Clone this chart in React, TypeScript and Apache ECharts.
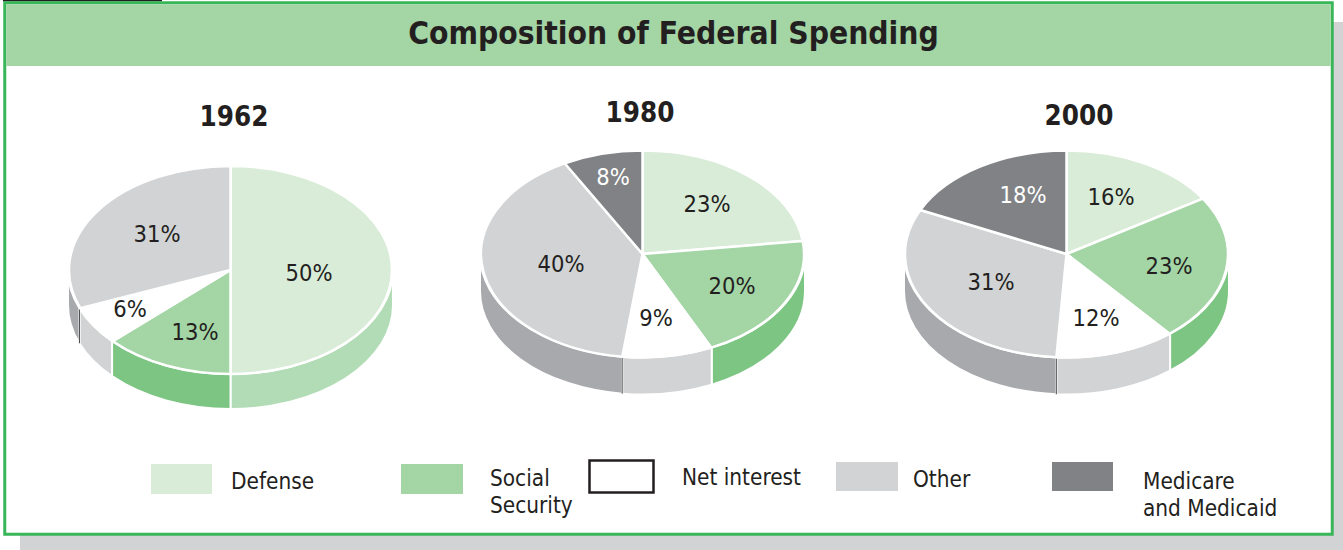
import React, { useEffect, useRef } from "react";
import * as echarts from "echarts";

const title = "Composition of Federal Spending";
const categories = ["Defense", "Social Security", "Net interest", "Other", "Medicare and Medicaid"];
const values1962 = [50, 13, 6, 31, 0];
const values1980 = [23, 20, 9, 40, 8];
const values2000 = [16, 23, 12, 31, 18];

const topColors = ["#d9ecd8", "#a3d5a5", "#ffffff", "#d1d3d4", "#808285"];
const wallColors = ["#b2dcb5", "#7cc583", "#d1d3d4", "#a7a9ac", "#808285"];
const labelColors = ["#231f20", "#231f20", "#231f20", "#231f20", "#ffffff"];
const FONT = "'DejaVu Sans Condensed', 'DejaVu Sans', sans-serif";

const pies = [
  { year: "1962", values: values1962, cx: 230.5, cy: 270, rx: 161.5, ry: 104, depth: 35, titleX: 234, titleY: 116,
    labels: [[309, 273], [195, 332], [130, 309], [157, 234], [0, 0]] },
  { year: "1980", values: values1980, cx: 642.5, cy: 254, rx: 161.5, ry: 103.5, depth: 37, titleX: 640, titleY: 112,
    labels: [[707, 204], [732, 286], [656, 318], [561, 264], [613, 177]] },
  { year: "2000", values: values2000, cx: 1066.5, cy: 254, rx: 161.5, ry: 103.5, depth: 37, titleX: 1079, titleY: 115,
    labels: [[1111, 197], [1169, 266], [1096, 318], [991, 282], [1023, 195]] },
];

const legendSwatches = [
  { x: 151, y: 464, w: 61, h: 30 },
  { x: 401, y: 464, w: 62, h: 30 },
  { x: 589.5, y: 460.5, w: 64, h: 32 },
  { x: 836, y: 462, w: 62, h: 29 },
  { x: 1052, y: 462, w: 61, h: 29 },
];
const legendTexts = [
  { x: 231, y: 481, lines: ["Defense"] },
  { x: 490, y: 478, lines: ["Social", "Security"] },
  { x: 682, y: 477, lines: ["Net interest"] },
  { x: 913, y: 479, lines: ["Other"] },
  { x: 1143, y: 481, lines: ["Medicare", "and Medicaid"] },
];

function makeSeries(p: (typeof pies)[number]) {
  const total = p.values.reduce((a, b) => a + b, 0);
  const pt = (a: number, dy = 0, grow = 0) =>
    [p.cx + (p.rx + grow) * Math.sin(a), p.cy - p.ry * Math.cos(a) + dy] as [number, number];
  const startOf = (i: number) =>
    (p.values.slice(0, i).reduce((a, b) => a + b, 0) / total) * Math.PI * 2;
  const arc = (a1: number, a2: number, dy: number, sweep: 0 | 1, grow = 0) => {
    const [x, y] = pt(a2, dy, grow);
    const large = Math.abs(a2 - a1) > Math.PI ? 1 : 0;
    return `A${p.rx + grow} ${p.ry} 0 ${large} ${sweep} ${x} ${y}`;
  };
  const data = p.values.map((v, i) => ({ name: categories[i], value: v }));
  const grow = 1;

  const renderWall = (params: any, api: any) => {
    const i = params.dataIndex;
    const v = api.value(0);
    const a1 = startOf(i);
    const a2 = a1 + (v / total) * Math.PI * 2;
    const lo = Math.max(a1, Math.PI / 2);
    const hi = Math.min(a2, (Math.PI * 3) / 2);
    if (v <= 0 || hi <= lo) return { type: "group", children: [] };
    const [sx, sy] = pt(lo, 0, grow);
    const [ex, ey] = pt(hi, p.depth, grow);
    const d = `M${sx} ${sy}${arc(lo, hi, 0, 1, grow)}L${ex} ${ey}${arc(hi, lo, p.depth, 0, grow)}Z`;
    const children: any[] = [
      { type: "path", shape: { pathData: d }, style: { fill: wallColors[i], stroke: "#ffffff", lineWidth: 2 } },
    ];
    if (i === 3) {
      const [lx, ly] = pt(a1, 0, grow);
      children.push({
        type: "line",
        shape: { x1: lx, y1: ly, x2: lx, y2: ly + p.depth },
        style: { stroke: "#414042", lineWidth: 1 },
      });
    }
    return { type: "group", children };
  };

  const renderTop = (params: any, api: any) => {
    const i = params.dataIndex;
    const v = api.value(0);
    if (v <= 0) return { type: "group", children: [] };
    const a1 = startOf(i);
    const a2 = a1 + (v / total) * Math.PI * 2;
    const [sx, sy] = pt(a1);
    const d = `M${p.cx} ${p.cy}L${sx} ${sy}${arc(a1, a2, 0, 1)}Z`;
    return {
      type: "path",
      shape: { pathData: d },
      style: { fill: topColors[i], stroke: "#ffffff", lineWidth: 2.5, lineJoin: "round" },
    };
  };

  const renderLabel = (params: any, api: any) => {
    const i = params.dataIndex;
    const v = api.value(0);
    if (v <= 0) return { type: "group", children: [] };
    const [x, y] = p.labels[i];
    return {
      type: "text",
      style: {
        x, y, text: `${v}%`, fill: labelColors[i],
        font: `23.5px ${FONT}`, align: "center", verticalAlign: "middle",
      },
    };
  };

  const base = { type: "custom", coordinateSystem: "none", silent: true, data, name: p.year };
  return [
    { ...base, renderItem: renderWall, z: 2 },
    { ...base, renderItem: renderTop, z: 3 },
    { ...base, renderItem: renderLabel, z: 4 },
  ];
}

export default function App() {
  const ref = useRef<HTMLDivElement>(null);
  useEffect(() => {
    const chart = echarts.init(ref.current!, null, { renderer: "svg" });
    const graphic: any[] = [
      { type: "rect", z: 0, shape: { x: 20, y: 22, width: 1323, height: 528 }, style: { fill: "#d1d3d4" } },
      { type: "rect", z: 0, shape: { x: 3, y: 0, width: 159, height: 1.5 }, style: { fill: "#231f20" } },
      { type: "rect", z: 0, shape: { x: 4.75, y: 2.75, width: 1327.5, height: 531.5 }, style: { fill: "#ffffff", stroke: "#39b55a", lineWidth: 3 } },
      { type: "rect", z: 0, shape: { x: 6.25, y: 4.25, width: 1324.5, height: 61.75 }, style: { fill: "#a3d5a5" } },
      { type: "text", z: 1, style: { x: 673.5, y: 33, text: title, fill: "#231f20", font: `bold 31.5px ${FONT}`, align: "center", verticalAlign: "middle" } },
    ];
    pies.forEach((p) => {
      graphic.push({ type: "text", z: 1, style: { x: p.titleX, y: p.titleY, text: p.year, fill: "#231f20", font: `bold 27.5px ${FONT}`, align: "center", verticalAlign: "middle" } });
    });
    legendSwatches.forEach((s, i) => {
      const white = topColors[i] === "#ffffff";
      graphic.push({
        type: "rect", z: 1,
        shape: { x: s.x, y: s.y, width: s.w, height: s.h },
        style: { fill: topColors[i], stroke: white ? "#231f20" : null, lineWidth: white ? 2.5 : 0 },
      });
    });
    legendTexts.forEach((t) => {
      t.lines.forEach((line, k) => {
        graphic.push({
          type: "text", z: 1,
          style: { x: t.x, y: t.y + k * 27, text: line, fill: "#231f20", font: `22.4px ${FONT}`, align: "left", verticalAlign: "middle" },
        });
      });
    });
    chart.setOption({
      animation: false,
      backgroundColor: "#ffffff",
      graphic,
      series: pies.flatMap(makeSeries),
    });
    return () => chart.dispose();
  }, []);
  return <div ref={ref} style={{ position: "fixed", left: 0, top: 0, width: 1343, height: 550 }} />;
}
